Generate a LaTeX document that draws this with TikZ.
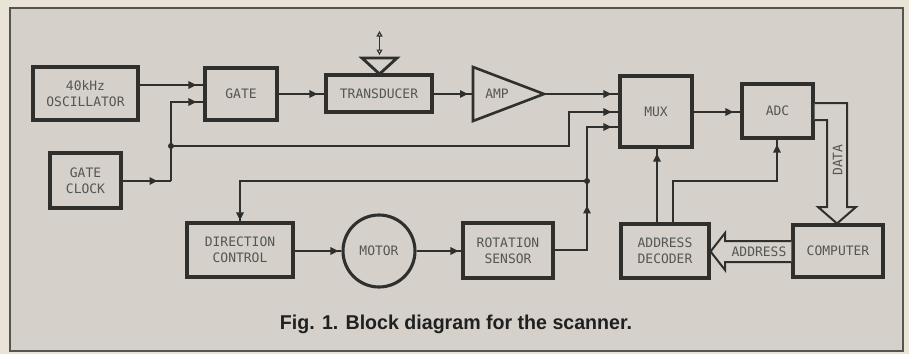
\documentclass[tikz,border=0pt]{standalone}
\usepackage{fontspec}
\setmainfont{DejaVu Sans Mono}
\newfontfamily\capfont[FakeStretch=0.98]{Liberation Sans}
\usetikzlibrary{arrows.meta,decorations.markings,calc}
\definecolor{paper}{HTML}{EAE4D8}
\definecolor{panel}{HTML}{D5D1CA}
\definecolor{ink}{HTML}{2F2F2D}
\definecolor{txt}{HTML}{555553}
\definecolor{framec}{HTML}{55554F}
\definecolor{capc}{HTML}{202020}
\tikzset{
  blk/.style={draw=ink, line width=3.1pt, fill=panel, align=center, text=txt,
    font=\fontsize{13}{16}\selectfont, inner sep=0pt},
  lbl/.style={text=txt, font=\fontsize{13}{16}\selectfont, inner sep=0pt},
  wire/.style={draw=ink, line width=1.5pt},
  tipat/.style={postaction={decorate}, decoration={markings,
    mark=at position #1 with {\arrow{Triangle[length=8pt,width=7.5pt]}}}},
  hollow/.style={draw=ink, line width=2pt, fill=panel, line join=miter},
}
\begin{document}
\begin{tikzpicture}[x=1pt,y=-1pt]
\fill[paper] (0,0) rectangle (909,354);
\useasboundingbox (0,0) rectangle (909,354);
\draw[draw=framec, line width=1.1pt, fill=panel] (10,8) rectangle (903,351);

% blocks
\node[blk, minimum width=105pt, minimum height=53pt] (osc) at (85.5,93.5) {40kHz\\OSCILLATOR};
\node[blk, minimum width=72pt, minimum height=52pt] (gate) at (241,94) {GATE};
\node[blk, minimum width=106pt, minimum height=37pt] (trans) at (379,93.5) {TRANSDUCER};
\node[blk, minimum width=71pt, minimum height=55pt] (gclk) at (85.5,180.5) {GATE\\CLOCK};
\node[blk, minimum width=72pt, minimum height=71pt] (mux) at (656,111.5) {MUX};
\node[blk, minimum width=71pt, minimum height=54pt] (adc) at (777.5,111) {ADC};
\node[blk, minimum width=106pt, minimum height=54pt] (dc) at (240,250) {DIRECTION\\CONTROL};
\node[blk, circle, minimum size=72pt] (motor) at (379,251) {MOTOR};
\node[blk, minimum width=90pt, minimum height=55pt] (rs) at (508,250.5) {ROTATION\\SENSOR};
\node[blk, minimum width=88pt, minimum height=54pt] (ad) at (665,251) {ADDRESS\\DECODER};
\node[blk, minimum width=90pt, minimum height=52pt] (comp) at (838,251) {COMPUTER};

% amplifier
\draw[ink, line width=2.6pt, fill=panel, line join=miter] (473,67) -- (544,94) -- (473,121) -- cycle;
\coordinate (ampin) at (473,94);
\coordinate (ampout) at (544,94);
\node[lbl] (amplbl) at (497,94) {AMP};

% transducer symbol
\coordinate (tri) at (379.5,74);
\draw[ink, line width=2.8pt, line join=miter] (362,58) -- (397,58) -- (tri) -- cycle;
\coordinate (dtop) at (379.5,31);
\coordinate (dbot) at (379.5,55);
\draw[wire, line width=1.1pt, {Triangle[open,length=5.5pt,width=6pt]}-{Triangle[open,length=5.5pt,width=6pt]}] (dtop) -- (dbot);

% junctions
\coordinate (j1) at (171,146);
\coordinate (j2) at (587,181);

% connectors
\draw[wire, tipat=-7pt] (osc.east |- 0,85) -- (gate.west |- 0,85);
\draw[wire, tipat=35pt] (gclk.east |- 0,181) -- (171,181);
\draw[wire, tipat=-7pt] (171,181) -- (171,102) -- (gate.west |- 0,102);
\draw[wire, tipat=-7pt] (j1) -- (569,146) -- (569,112) -- (mux.west |- 0,112);
\draw[wire, tipat=-7pt] (gate.east) -- (trans.west |- gate.east);
\draw[wire, tipat=-5pt] (trans.east |- ampin) -- (ampin);
\draw[wire, tipat=-7pt] (ampout) -- (mux.west |- ampout);
\draw[wire, tipat=-7pt] (mux.east |- 0,112) -- (adc.west |- 0,112);
\draw[wire, tipat=77pt] (rs.east |- 0,250) -- (587,250) -- (j2);
\draw[wire, tipat=-7pt] (j2) -- (587,127) -- (mux.west |- 0,127);
\draw[wire, tipat=-1pt] (j2) -- (dc.north |- j2) -- (dc.north);
\draw[wire, tipat=-3pt] (dc.east |- motor.west) -- (motor.west);
\draw[wire, tipat=-3pt] (motor.east) -- (rs.west |- motor.east);
\draw[wire, tipat=-5pt] (ad.north -| 657,0) -- (mux.south -| 657,0);
\draw[wire, tipat=-5pt] (ad.north -| 673,0) -- (673,181) -- (777,181) -- (adc.south -| 777,0);
\fill[ink] (j1) circle (3pt);
\fill[ink] (j2) circle (3pt);

% DATA bus arrow
\draw[hollow] (adc.east |- 0,103) -- (847,103) -- (847,207) -- (856,207) -- (837,223.5)
  -- (818,207) -- (827,207) -- (827,120) -- (adc.east |- 0,120);
\node[lbl, rotate=90] (datalbl) at (837.5,160) {DATA};

% ADDRESS bus arrow
\draw[hollow] (comp.west |- 0,241) -- (725,241) -- (725,233) -- (ad.east |- 0,251.5)
  -- (725,270) -- (725,262) -- (comp.west |- 0,262);
\node[lbl] (addrlbl) at (759,251.5) {ADDRESS};

% caption
\node[font=\capfont\bfseries\fontsize{20}{22}\selectfont, text=capc, inner sep=0pt] (cap) at (456,324) {Fig. 1. Block diagram for the scanner.};
\end{tikzpicture}
\end{document}
